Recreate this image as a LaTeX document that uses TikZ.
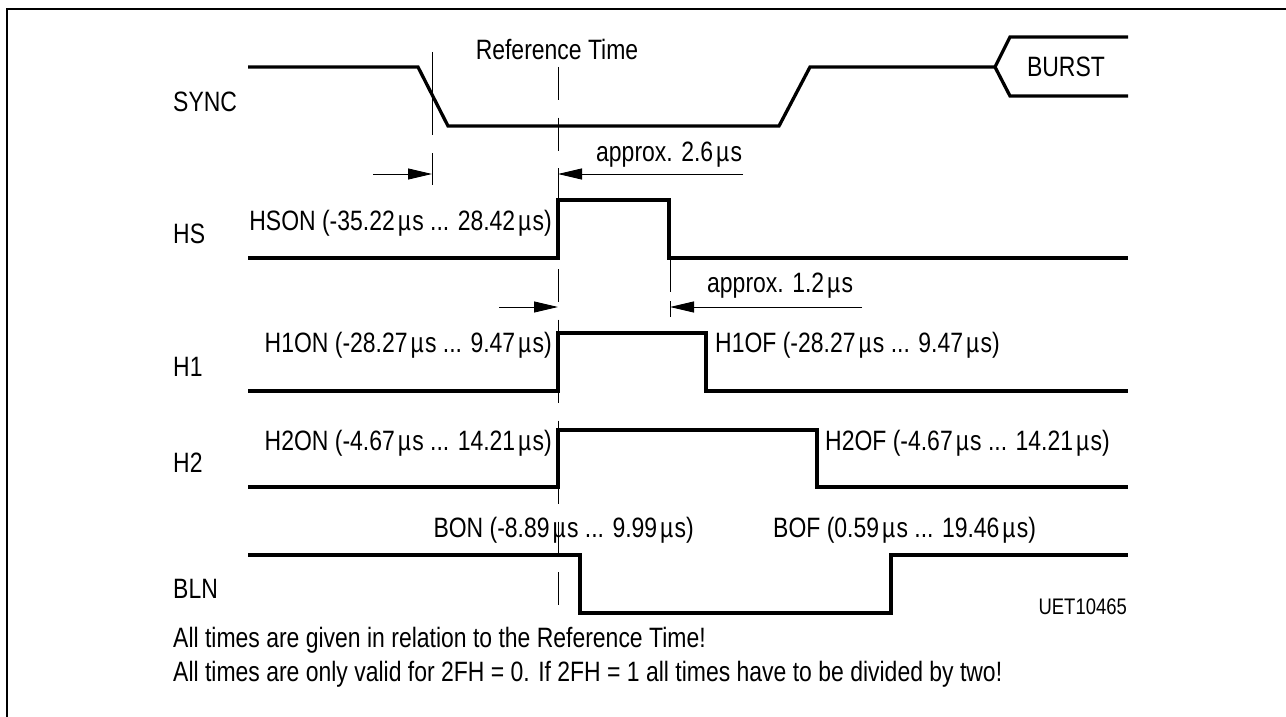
\documentclass[tikz,border=0pt]{standalone}
\usepackage{fontspec}
\setmainfont{Liberation Sans}[FakeStretch=0.82]
\usetikzlibrary{arrows.meta}
\newcommand{\usec}{\kern3pt µ\kern1.2pt s}
\begin{document}
\begin{tikzpicture}[x=1pt,y=-1pt,
  wave/.style={line width=3.3pt},
  guide/.style={line width=1pt},
  dimarrow/.style={line width=1pt,-{Triangle[length=24pt,width=11pt]}},
  txt/.style={inner sep=0pt,font=\fontsize{28}{34}\selectfont},
  small/.style={inner sep=0pt,font=\fontsize{22.5}{28}\selectfont}]
\useasboundingbox (0,0) rectangle (1286,717);
% frame
\draw[line width=2.8pt] (7,717) -- (7,9) -- (1286,9);
% signal labels
\node[txt,anchor=base west] (lsync) at (173,111.5) {SYNC};
\node[txt,anchor=base west] (lhs) at (173,243.5) {HS};
\node[txt,anchor=base west] (lh1) at (173,376.5) {H1};
\node[txt,anchor=base west] (lh2) at (173,472.5) {H2};
\node[txt,anchor=base west] (lbln) at (173,598.5) {BLN};
% reference
\node[txt,anchor=base] (ref) at (557,60) {Reference Time};
\draw[guide,dash pattern=on 33pt off 17.5pt] (558,67) -- (558,612);
% SYNC
\draw[wave] (248,67) -- (418,67) -- (448,126) -- (779,126) -- (810,67) -- (995,67);
\draw[wave] (1128,37) -- (1010,37) -- (995,67) -- (1010,96) -- (1128,96);
\node[txt,anchor=base] (burst) at (1066,77) {BURST};
% sync edge extension and arrows
\draw[guide] (432,52) -- (432,135);
\draw[guide] (432,153) -- (432,185);
\coordinate (a1s) at (373,174);
\coordinate (a1e) at (432,174);
\draw[dimarrow] (a1s) -- (a1e);
\coordinate (a2s) at (743,174);
\coordinate (a2e) at (558,174);
\draw[dimarrow] (a2s) -- (a2e);
\node[txt,anchor=base west] (t26) at (596,161) {approx. 2.6\usec};
% HS
\draw[wave] (248,258) -- (558,258) -- (558,200) -- (669,200) -- (669,258) -- (1128,258);
\node[txt,anchor=base east] (hson) at (552,230) {HSON (-35.22\usec{} ... 28.42\usec)};
\draw[guide] (670,258) -- (670,292);
\draw[guide] (670,301) -- (670,317);
\coordinate (a3s) at (499,307);
\coordinate (a3e) at (558,307);
\draw[dimarrow] (a3s) -- (a3e);
\coordinate (a4s) at (862,307);
\coordinate (a4e) at (670,307);
\draw[dimarrow] (a4s) -- (a4e);
\node[txt,anchor=base west] (t12) at (707,292) {approx. 1.2\usec};
% H1
\draw[wave] (248,391) -- (558,391) -- (558,333) -- (706,333) -- (706,391) -- (1128,391);
\node[txt,anchor=base east] (h1on) at (552,352) {H1ON (-28.27\usec{} ... 9.47\usec)};
\node[txt,anchor=base west] (h1of) at (715,352) {H1OF (-28.27\usec{} ... 9.47\usec)};
% H2
\draw[wave] (248,487) -- (558,487) -- (558,430) -- (817,430) -- (817,487) -- (1128,487);
\node[txt,anchor=base east] (h2on) at (552,450) {H2ON (-4.67\usec{} ... 14.21\usec)};
\node[txt,anchor=base west] (h2of) at (825,450) {H2OF (-4.67\usec{} ... 14.21\usec)};
% BLN
\draw[wave] (248,555) -- (580,555) -- (580,613) -- (891,613) -- (891,555) -- (1128,555);
\node[txt,anchor=base east] (bon) at (694,537) {BON (-8.89\usec{} ... 9.99\usec)};
\node[txt,anchor=base west] (bof) at (773,537) {BOF (0.59\usec{} ... 19.46\usec)};
\node[small,anchor=base east] (uet) at (1127,614) {UET10465};
% notes
\node[txt,anchor=base west] (n1) at (173,647) {All times are given in relation to the Reference Time!};
\node[txt,anchor=base west] (n2) at (173,681) {All times are only valid for 2FH = 0. If 2FH = 1 all times have to be divided by two!};
\end{tikzpicture}
\end{document}
